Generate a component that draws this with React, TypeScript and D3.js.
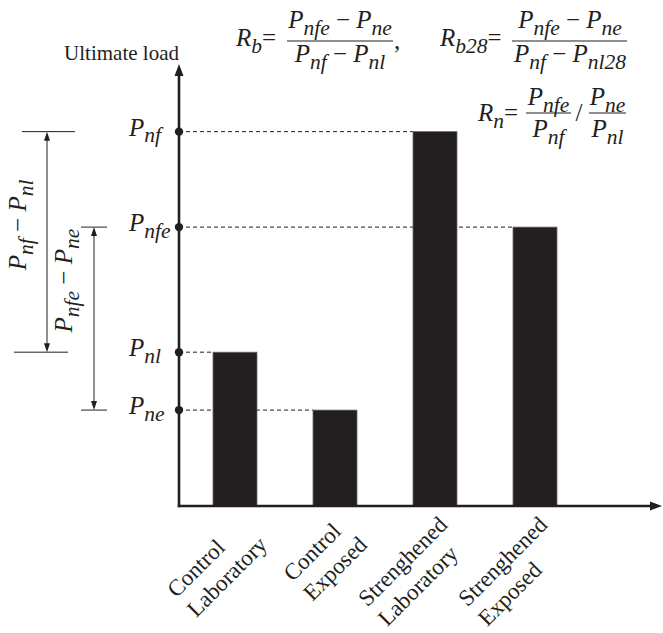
import React, { useMemo } from "react";
import * as d3 from "d3";

// Specimen groups (two-line axis labels) and their ultimate loads (arbitrary units)
const groupLines: string[][] = [
  ["Control", "Laboratory"],
  ["Control", "Exposed"],
  ["Strenghened", "Laboratory"],
  ["Strenghened", "Exposed"],
];
const ultimateLoads = [34.8, 21.7, 84.7, 63.1];
// Subscript of the load symbol P attached to each group
const loadSymbols = ["nl", "ne", "nf", "nfe"];
// Differences shown as dimension arrows: [upper symbol, lower symbol]
const loadDifferences: [string, string][] = [
  ["nf", "nl"],
  ["nfe", "ne"],
];

const W = 663;
const H = 633;
const INK = "#231f20";
const SERIF = "'Liberation Serif', 'Times New Roman', Times, serif";
const LABEL_SIZE = 23;

type Part = { t: string; it?: boolean; sub?: boolean };
const P = (sub: string): Part[] => [
  { t: "P", it: true },
  { t: sub, it: true, sub: true },
];
const minus: Part = { t: " \u2212 " };

function Expr(props: {
  x: number;
  y: number;
  parts: Part[];
  size: number;
  subSize: number;
  shift: number;
  anchor?: string;
  transform?: string;
}) {
  const { x, y, parts, size, subSize, shift, anchor = "start", transform } = props;
  let cur = 0;
  return (
    <text
      x={x}
      y={y}
      textAnchor={anchor}
      fontSize={size}
      fontFamily={SERIF}
      fill={INK}
      transform={transform}
      style={{ whiteSpace: "pre" }}
    >
      {parts.map((p, i) => {
        const target = p.sub ? shift : 0;
        const dy = target - cur;
        cur = target;
        return (
          <tspan
            key={i}
            dy={dy !== 0 ? dy : undefined}
            fontSize={p.sub ? subSize : undefined}
            fontStyle={p.it ? "italic" : "normal"}
          >
            {p.t}
          </tspan>
        );
      })}
    </text>
  );
}

export default function App() {
  const x0 = 179;
  const y0 = 506;
  const yTop = 64;
  const xEnd = 662;

  const keys = groupLines.map((l) => l.join(" "));
  const x = d3
    .scaleBand<string>()
    .domain(keys)
    .range([x0, 591])
    .paddingInner(0.56)
    .paddingOuter(0.34);
  const y = d3.scaleLinear().domain([0, 100]).range([y0, yTop]);

  const bw = x.bandwidth();
  const FS = 25; // formula / symbol size
  const FSS = 21.5; // subscript size
  const SH = 6.5; // subscript drop

  // widest line of each group label, so that the blocks can be right-aligned
  const blockWidths = useMemo(() => {
    const ctx = document.createElement("canvas").getContext("2d");
    return groupLines.map((lines) => {
      if (!ctx) return lines.reduce((m, l) => Math.max(m, l.length * 10), 0);
      ctx.font = `${LABEL_SIZE}px ${SERIF}`;
      return lines.reduce((m, l) => Math.max(m, ctx.measureText(l).width), 0);
    });
  }, []);

  const valueOf = (s: string) => ultimateLoads[loadSymbols.indexOf(s)];

  // layout of the two dimension arrows at the left
  const spanLayout = [
    { ax: 47, topX: [22, 75], botX: [14, 68], labelX: 26, labelDy: -17 },
    { ax: 94, topX: [81, 107], botX: [81, 107], labelX: 72, labelDy: -38 },
  ];

  const fracLine = (x1: number, x2: number, yy: number) => (
    <line x1={x1} x2={x2} y1={yy} y2={yy} stroke={INK} strokeWidth={1.1} />
  );

  return (
    <svg
      width={W}
      height={H}
      style={{ position: "absolute", left: 0, top: 0, background: "#fff" }}
    >
      {/* dashed reference lines from the axis to each bar */}
      {loadSymbols.map((s, i) => (
        <line
          key={"d" + s}
          x1={x0}
          x2={x(keys[i]) as number}
          y1={y(ultimateLoads[i])}
          y2={y(ultimateLoads[i])}
          stroke={INK}
          strokeWidth={1}
          strokeDasharray="4,3"
        />
      ))}

      {/* bars */}
      {ultimateLoads.map((v, i) => (
        <rect
          key={"b" + i}
          x={x(keys[i]) as number}
          y={y(v)}
          width={bw}
          height={y0 - y(v)}
          fill={INK}
          stroke="#6d6a6b"
          strokeWidth={0.8}
        />
      ))}

      {/* axes with arrow heads */}
      <line x1={x0} x2={x0} y1={y0 + 1.2} y2={yTop + 8} stroke={INK} strokeWidth={2.6} />
      <polygon points={`${x0},${yTop} ${x0 - 4.5},${yTop + 12} ${x0 + 4.5},${yTop + 12}`} fill={INK} />
      <line x1={x0 - 1.2} x2={xEnd - 8} y1={y0} y2={y0} stroke={INK} strokeWidth={2.6} />
      <polygon points={`${xEnd},${y0} ${xEnd - 12},${y0 - 4.5} ${xEnd - 12},${y0 + 4.5}`} fill={INK} />

      <text x={x0} y={60} textAnchor="end" fontSize={21} fontFamily={SERIF} fill={INK}>
        Ultimate load
      </text>

      {/* load levels on the axis */}
      {loadSymbols.map((s, i) => (
        <g key={"t" + s}>
          <circle cx={x0} cy={y(ultimateLoads[i])} r={4.2} fill={INK} />
          <Expr
            x={129}
            y={y(ultimateLoads[i]) + 4}
            parts={P(s)}
            size={FS}
            subSize={FSS}
            shift={SH}
          />
        </g>
      ))}

      {/* group labels: left-aligned lines, block's right edge hung under the bar */}
      {groupLines.map((lines, i) => {
        const cx = (x(keys[i]) as number) + bw / 2;
        return (
          <g key={"x" + i} transform={`translate(${cx + 13.7},${y0 + 20.2}) rotate(-45)`}>
            <text fontSize={LABEL_SIZE} fontFamily={SERIF} fill={INK}>
              {lines.map((l, j) => (
                <tspan key={j} x={-blockWidths[i]} dy={j === 0 ? 0 : 28}>
                  {l}
                </tspan>
              ))}
            </text>
          </g>
        );
      })}

      {/* dimension arrows for the load differences */}
      {loadDifferences.map(([hi, lo], k) => {
        const L = spanLayout[k];
        const yHi = y(valueOf(hi));
        const yLo = y(valueOf(lo));
        const mid = (yHi + yLo) / 2 + L.labelDy;
        return (
          <g key={"s" + k}>
            <line x1={L.topX[0]} x2={L.topX[1]} y1={yHi} y2={yHi} stroke={INK} strokeWidth={1} />
            <line x1={L.botX[0]} x2={L.botX[1]} y1={yLo} y2={yLo} stroke={INK} strokeWidth={1} />
            <line x1={L.ax} x2={L.ax} y1={yHi + 6} y2={yLo - 6} stroke={INK} strokeWidth={1} />
            <polygon points={`${L.ax},${yHi} ${L.ax - 3},${yHi + 9} ${L.ax + 3},${yHi + 9}`} fill={INK} />
            <polygon points={`${L.ax},${yLo} ${L.ax - 3},${yLo - 9} ${L.ax + 3},${yLo - 9}`} fill={INK} />
            <Expr
              x={0}
              y={0}
              parts={[...P(hi), minus, ...P(lo)]}
              size={FS}
              subSize={FSS}
              shift={SH}
              anchor="middle"
              transform={`translate(${L.labelX},${mid}) rotate(-90)`}
            />
          </g>
        );
      })}

      {/* ratio definitions */}
      <Expr x={236} y={46} parts={[{ t: "R", it: true }, { t: "b", it: true, sub: true }, { t: "=" }]} size={FS} subSize={FSS} shift={SH} />
      {fracLine(287, 393, 41)}
      <Expr x={340} y={28} parts={[...P("nfe"), minus, ...P("ne")]} size={FS} subSize={FSS} shift={SH} anchor="middle" />
      <Expr x={340} y={62} parts={[...P("nf"), minus, ...P("nl")]} size={FS} subSize={FSS} shift={SH} anchor="middle" />
      <text x={394} y={49} fontSize={FS} fontFamily={SERIF} fill={INK}>,</text>

      <Expr x={440} y={46} parts={[{ t: "R", it: true }, { t: "b28", it: true, sub: true }, { t: "=" }]} size={FS} subSize={FSS} shift={SH} />
      {fracLine(512, 627, 41)}
      <Expr x={570} y={28} parts={[...P("nfe"), minus, ...P("ne")]} size={FS} subSize={FSS} shift={SH} anchor="middle" />
      <Expr x={570} y={62} parts={[...P("nf"), minus, ...P("nl28")]} size={FS} subSize={FSS} shift={SH} anchor="middle" />

      <Expr x={478} y={121} parts={[{ t: "R", it: true }, { t: "n", it: true, sub: true }, { t: "=" }]} size={FS} subSize={FSS} shift={SH} />
      {fracLine(526, 571, 113)}
      <Expr x={548.5} y={105} parts={P("nfe")} size={FS} subSize={FSS} shift={SH} anchor="middle" />
      <Expr x={548.5} y={137} parts={P("nf")} size={FS} subSize={FSS} shift={SH} anchor="middle" />
      <text x={579} y={121} textAnchor="middle" fontSize={FS} fontFamily={SERIF} fill={INK}>/</text>
      {fracLine(589, 626, 113)}
      <Expr x={607.5} y={105} parts={P("ne")} size={FS} subSize={FSS} shift={SH} anchor="middle" />
      <Expr x={607.5} y={137} parts={P("nl")} size={FS} subSize={FSS} shift={SH} anchor="middle" />
    </svg>
  );
}
